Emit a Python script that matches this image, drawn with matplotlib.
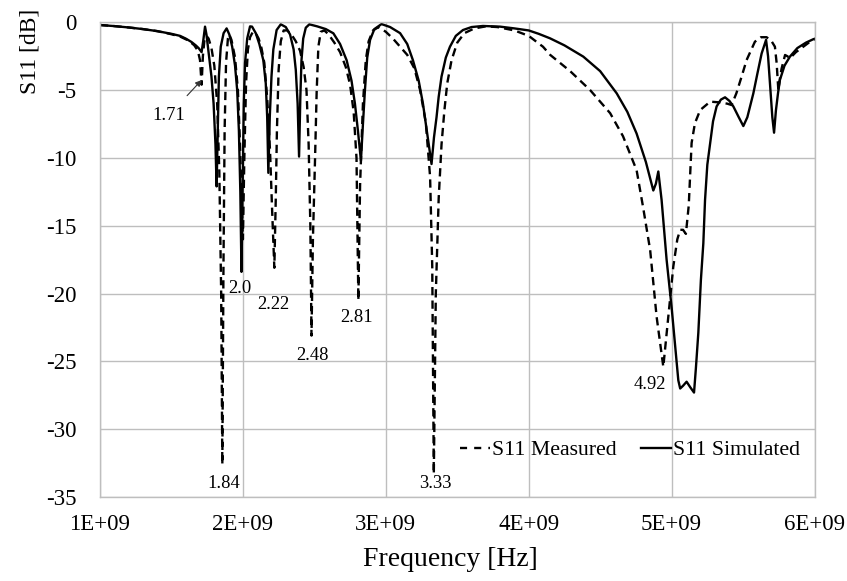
import numpy as np
import matplotlib
matplotlib.use("Agg")
import matplotlib.pyplot as plt
from matplotlib.ticker import FuncFormatter, MultipleLocator

plt.rcParams['font.family'] = ['Liberation Serif', 'DejaVu Serif']
plt.rcParams['axes.unicode_minus'] = False

# ---- data (frequency in GHz, S11 in dB) ----
meas_f = [1.00, 1.10, 1.20, 1.30, 1.40, 1.50, 1.56, 1.62, 1.66, 1.685, 1.70, 1.711, 1.72, 1.73,
          1.745, 1.76, 1.78, 1.80, 1.82, 1.835, 1.848, 1.856, 1.864, 1.872, 1.882, 1.895, 1.905,
          1.92, 1.945, 1.965, 1.98, 1.992, 2.00, 2.01, 2.022, 2.035, 2.05, 2.07, 2.09, 2.11, 2.13,
          2.15, 2.17, 2.19, 2.205, 2.22, 2.23, 2.238, 2.25, 2.265, 2.285, 2.31, 2.34, 2.37, 2.40,
          2.425, 2.445, 2.46, 2.472, 2.48, 2.49, 2.505, 2.516, 2.528, 2.545, 2.57, 2.60, 2.64,
          2.68, 2.72, 2.75, 2.775, 2.795, 2.808, 2.82, 2.84, 2.86, 2.88, 2.91, 2.95, 3.00, 3.05,
          3.10, 3.15, 3.20, 3.24, 3.28, 3.31, 3.325, 3.336, 3.35, 3.37, 3.39, 3.41, 3.43, 3.46,
          3.50, 3.55, 3.62, 3.70, 3.78, 3.90, 4.00, 4.10, 4.15, 4.29, 4.43, 4.57, 4.66, 4.755,
          4.80, 4.85, 4.895, 4.942, 4.977, 5.012, 5.04, 5.06, 5.08, 5.10, 5.12, 5.14, 5.163,
          5.20, 5.27, 5.33, 5.39, 5.42, 5.453, 5.49, 5.525, 5.583, 5.625, 5.665, 5.70, 5.723,
          5.735, 5.747, 5.76, 5.77, 5.794, 5.81, 5.828, 5.87, 5.922, 5.96, 6.00]
meas_db = [-0.20, -0.28, -0.38, -0.50, -0.65, -0.88, -1.05, -1.35, -1.7, -2.1, -2.8, -4.6, -2.5, -1.4,
           -1.0, -1.2, -1.9, -3.2, -6.0, -11.0, -20.0, -32.6, -18.0, -8.0, -3.0, -1.2, -0.9,
           -1.3, -2.6, -5.0, -9.0, -13.5, -16.0, -10.0, -4.5, -2.0, -1.1, -0.7, -0.8, -1.2, -1.9,
           -3.0, -5.6, -9.5, -14.0, -18.1, -13.0, -8.0, -3.5, -1.4, -0.6, -0.6, -0.9, -1.4, -2.1,
           -3.3, -5.0, -9.0, -15.0, -23.1, -16.0, -10.0, -5.2, -1.8, -0.7, -0.6, -0.9, -1.5,
           -2.2, -3.3, -4.6, -6.6, -10.0, -20.5, -12.0, -6.0, -2.8, -1.4, -0.6, -0.35, -0.7, -1.2,
           -1.8, -2.4, -3.4, -5.0, -7.4, -11.4, -18.0, -33.3, -20.0, -13.0, -9.0, -6.5, -4.5, -2.8,
           -1.5, -0.8, -0.45, -0.3, -0.35, -0.6, -1.0, -1.8, -2.4, -3.6, -5.0, -6.7, -8.4, -10.9,
           -13.6, -16.8, -21.7, -25.4, -21.7, -18.0, -16.0, -15.3, -15.3, -15.6, -13.5, -8.9, -7.45,
           -6.47, -5.85, -5.9, -6.0, -6.1, -5.24, -4.0, -2.78, -1.43, -1.1, -1.1, -1.4, -1.8,
           -3.0, -5.0, -4.0, -3.4, -2.41, -2.5, -2.65, -2.2, -1.8, -1.5, -1.25]

sim_f = [1.00, 1.10, 1.20, 1.30, 1.40, 1.50, 1.56, 1.60, 1.64, 1.67, 1.69, 1.711, 1.722, 1.735,
         1.745, 1.76, 1.78, 1.795, 1.808, 1.816, 1.824, 1.832, 1.845, 1.865, 1.886, 1.905, 1.925,
         1.945, 1.96, 1.972, 1.982, 1.99, 1.998, 2.006, 2.015, 2.03, 2.05, 2.064, 2.09, 2.115,
         2.143, 2.16, 2.17, 2.178, 2.188, 2.20, 2.213, 2.236, 2.265, 2.30, 2.33, 2.355, 2.37,
         2.383, 2.393, 2.402, 2.41, 2.422, 2.44, 2.465, 2.52, 2.58, 2.633, 2.68, 2.726, 2.76,
         2.784, 2.805, 2.826, 2.84, 2.854, 2.87, 2.89, 2.92, 2.97, 3.03, 3.10, 3.15, 3.19, 3.23,
         3.26, 3.29, 3.32, 3.337, 3.355, 3.37, 3.39, 3.42, 3.449, 3.49, 3.54, 3.60, 3.68, 3.80,
         3.90, 4.00, 4.07, 4.149, 4.25, 4.382, 4.50, 4.616, 4.69, 4.755, 4.82, 4.872, 4.89,
         4.907, 4.93, 4.965, 5.00, 5.047, 5.06, 5.08, 5.105, 5.13, 5.157, 5.17, 5.187, 5.205,
         5.222, 5.234, 5.25, 5.27, 5.29, 5.315, 5.345, 5.374, 5.405, 5.432, 5.47, 5.502, 5.53,
         5.572, 5.60, 5.63, 5.661, 5.675, 5.69, 5.705, 5.717, 5.73, 5.745, 5.758, 5.79, 5.828,
         5.88, 5.94, 5.991, 6.00]
sim_db = [-0.20, -0.28, -0.38, -0.50, -0.65, -0.85, -1.0, -1.2, -1.45, -1.7, -1.9, -2.2, -1.4, -0.32,
          -0.9, -2.2, -4.0, -6.0, -9.0, -12.1, -8.0, -4.0, -1.8, -0.8, -0.45, -0.9, -1.8,
          -3.2, -5.0, -8.0, -12.5, -18.4, -12.0, -6.0, -3.0, -1.2, -0.3, -0.32, -0.8, -1.6,
          -2.8, -4.5, -7.0, -11.1, -7.0, -4.0, -2.0, -0.57, -0.15, -0.35, -0.9, -2.0, -3.5,
          -6.0, -9.9, -5.5, -2.8, -1.2, -0.4, -0.15, -0.3, -0.5, -0.81, -1.6, -2.8, -4.3,
          -6.0, -8.0, -10.2, -7.5, -5.0, -2.6, -1.3, -0.5, -0.13, -0.35, -0.8, -1.6, -2.8, -4.3,
          -6.0, -8.2, -10.45, -8.5, -7.0, -5.5, -4.0, -2.6, -1.8, -1.0, -0.57, -0.35, -0.27, -0.32,
          -0.45, -0.6, -0.85, -1.18, -1.7, -2.53, -3.6, -5.24, -6.6, -8.2, -10.3, -12.4, -11.9,
          -11.0, -13.1, -17.5, -21.0, -26.4, -27.0, -26.8, -26.5, -26.9, -27.3, -25.5, -22.9, -19.0,
          -16.3, -13.1, -10.5, -8.9, -7.3, -6.2, -5.7, -5.53, -5.8, -6.2, -7.0, -7.65, -7.0,
          -5.24, -3.8, -2.3, -1.3, -2.5, -4.8, -7.0, -8.14, -6.5, -5.2, -4.25, -3.2, -2.53,
          -1.9, -1.5, -1.25, -1.22]

ann_labels = ["2.0", "2.22", "2.48", "2.81", "1.84", "3.33", "4.92"]
ann_f = [1.98, 2.214, 2.484, 2.795, 1.868, 3.348, 4.849]
ann_db = [-19.6, -20.8, -24.6, -21.8, -34.0, -34.0, -26.7]

x_ticks = [1e9, 2e9, 3e9, 4e9, 5e9, 6e9]

# ---- figure ----
fig = plt.figure(figsize=(8.47, 5.81), dpi=100)
ax = fig.add_axes([100 / 847, 1 - 497 / 581, 714.5 / 847, 474.7 / 581])

grid_c = '#BEBEBE'
ax.plot(np.array(meas_f) * 1e9, meas_db, color='black', lw=1.7,
        linestyle=(0, (3.5, 2.2)), label='S11 Measured')
ax.plot(np.array(sim_f) * 1e9, sim_db, color='black', lw=1.7, label='S11 Simulated')

ax.set_xlim(1e9, 6e9)
ax.set_ylim(-35, 0)
ax.set_xticks(x_ticks)
ax.yaxis.set_major_locator(MultipleLocator(5))
ax.xaxis.set_major_formatter(FuncFormatter(lambda v, p: f"{v / 1e9:.0f}E+09"))
ax.yaxis.set_major_formatter(FuncFormatter(lambda v, p: f"{v:.0f}"))
ax.grid(True, color=grid_c, lw=1.0)
ax.set_axisbelow(True)
for s in ax.spines.values():
    s.set_color(grid_c)
    s.set_linewidth(1.0)
ax.tick_params(length=0, labelsize=16.5, pad=12)
ax.tick_params(axis='y', pad=17)

for lab, f, d in zip(ann_labels, ann_f, ann_db):
    ax.text(f * 1e9, d, lab, fontsize=13.3, ha='center', va='center')

ax.annotate("1.71", xy=(1.711e9, -4.26), xytext=(1.483e9, -6.84),
            fontsize=13.3, ha='center', va='center',
            arrowprops=dict(arrowstyle='-|>', color='#333333', lw=0.8,
                            shrinkA=8, shrinkB=0, mutation_scale=9))

leg = ax.legend(loc='center right', bbox_to_anchor=(0.992, 0.099), ncol=2,
                frameon=False, fontsize=15.7, handlelength=1.38, handletextpad=0.1,
                columnspacing=1.1, borderaxespad=0)
leg.get_lines()[0].set_dashes([3.0, 3.0])

fig.text(30 / 847, 1 - 51 / 581, "S11 [dB]", rotation=90, fontsize=17,
         ha='center', va='center')
fig.text(450 / 847, 1 - 560 / 581, "Frequency [Hz]", fontsize=20,
         ha='center', va='center')

fig.savefig("out.png", dpi=100)
